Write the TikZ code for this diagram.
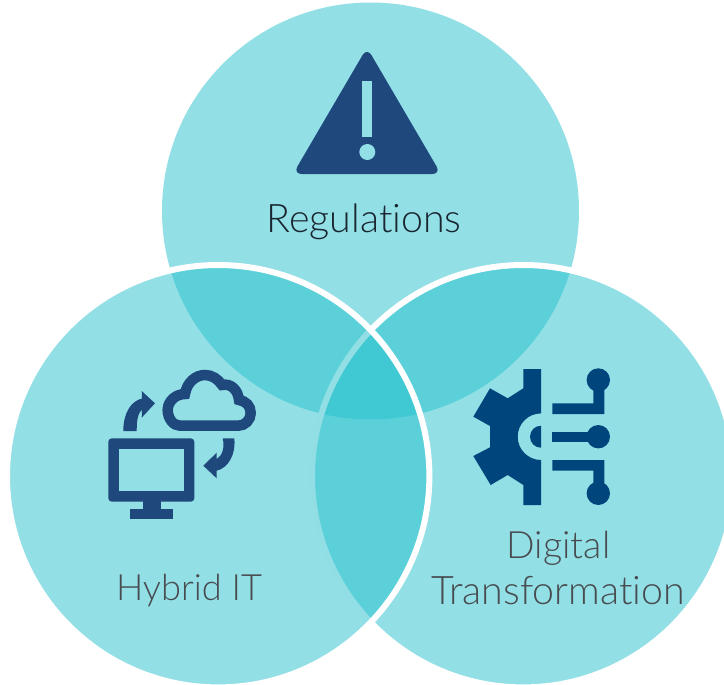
\documentclass[tikz,border=0pt]{standalone}
\usepackage{fontspec}
\setmainfont{Lato}[UprightFont=* Light, Ligatures=NoCommon]
\definecolor{venncyan}{RGB}{37,193,205}
\definecolor{vennpale}{RGB}{146,224,230}
\definecolor{iconblue}{RGB}{31,72,125}
\definecolor{gearblue}{RGB}{0,70,125}
\definecolor{labeldark}{RGB}{26,37,48}
\definecolor{labelgrey}{RGB}{72,76,80}
\tikzset{
	venncircle/.style={fill=venncyan, fill opacity=0.5},
	vennedge/.style={venncircle, draw=white, line width=0.12cm},
	vennlabel/.style={anchor=base, inner sep=0, font=\fontsize{22.4}{26}\selectfont},
}
\begin{document}
\begin{tikzpicture}[x=0.02cm, y=-0.02cm]
	\useasboundingbox (0, 0) rectangle (724, 684);
	\clip (0, 0) rectangle (724, 684);
	\fill[venncircle] (370.5, 211) circle (208.5);
	\draw[vennedge] (523.2, 476.2) circle (211.2);
	\draw[vennedge] (218.2, 476.2) circle (211.2);
	\fill[iconblue, rounded corners=5pt] (367, 47.5) -- (441, 174) -- (293, 174) -- cycle;
	\fill[vennpale] (362.3, 81) rectangle (372.3, 137);
	\fill[vennpale] (367.3, 152) circle (8);
	\fill[iconblue, rounded corners=2pt] (108.3, 438.3) rectangle (194.3, 501.7);
	\fill[vennpale] (119, 449) rectangle (184, 490.7);
	\fill[iconblue] (142.7, 501) rectangle (160.7, 509);
	\fill[iconblue] (130, 508.7) rectangle (173.3, 519.3);
	\draw[iconblue, line width=0.21cm] (180, 425.7) .. controls (173, 425.7) and (167.7, 418) .. (167.7, 410)
		.. controls (167.7, 401) and (176, 394) .. (185, 394)
		.. controls (187, 382) and (196, 375) .. (205, 375)
		.. controls (212, 375) and (218, 379) .. (222, 385)
		.. controls (231, 383) and (238, 390) .. (239, 400)
		.. controls (246, 401) and (250.7, 406) .. (250.7, 413)
		.. controls (250.7, 420) and (245, 425.7) .. (238.3, 425.7) -- cycle;
	\fill[iconblue] (123.3, 431) .. controls (123.3, 413) and (131, 401) .. (142, 398.5)
		-- (141.7, 391) -- (155, 403.3) -- (141.7, 417.7) -- (142, 409.5)
		.. controls (138, 413) and (136.7, 420) .. (136.7, 431) -- cycle;
	\fill[iconblue] (234.3, 438.3) .. controls (236, 455) and (228, 468) .. (216.7, 470.7)
		-- (216.7, 478.3) -- (203.3, 465.7) -- (216.7, 452.7) -- (216.7, 459)
		.. controls (222, 456) and (225, 448) .. (222.7, 438.3) -- cycle;
	\fill[gearblue] (541, 369) -- (523.3, 369) -- (523.3, 388.3) -- (507.7, 398.3) -- (490, 388.3)
		-- (473.3, 416.7) -- (490, 426) -- (490, 447.3) -- (473.3, 456) -- (490.7, 485)
		-- (507.7, 475) -- (523.3, 485) -- (523.3, 505) -- (541, 505) -- (541, 460)
		arc (90:270:23.3) -- cycle;
	\fill[gearblue] (541, 447.7) arc (90:270:11) -- cycle;
	\fill[gearblue] (552.3, 403.3) -- (593.3, 403.3) -- (593.3, 380) -- (604.3, 380) -- (604.3, 414) -- (552.3, 414) -- cycle;
	\fill[gearblue] (598.3, 380) circle (11.7);
	\fill[gearblue] (552.3, 432) rectangle (593, 442.3);
	\fill[gearblue] (598.3, 436.7) circle (11.7);
	\fill[gearblue] (552.3, 460) -- (604.3, 460) -- (604.3, 493) -- (593.3, 493) -- (593.3, 470.7) -- (552.3, 470.7) -- cycle;
	\fill[gearblue] (598.3, 493.3) circle (11.7);
	\node[vennlabel, text=labeldark] (regulations) at (364, 232) {Regulations};
	\node[vennlabel, text=labelgrey, font=\fontsize{20.6}{26}\selectfont] (hybrid) at (189, 600) {Hybrid IT};
	\node[vennlabel, text=labelgrey, font=\fontsize{21.4}{26}\selectfont] (digital) at (558.5, 558) {Digital};
	\node[vennlabel, text=labelgrey] (transformation) at (558, 604) {Transformation};
\end{tikzpicture}
\end{document}
